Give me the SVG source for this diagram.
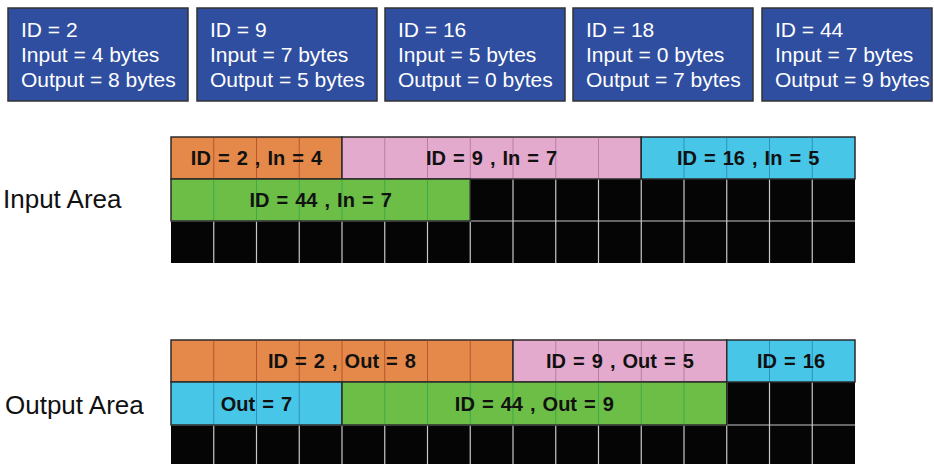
<svg xmlns="http://www.w3.org/2000/svg" width="934" height="464" viewBox="0 0 934 464">
<style>
.box{fill:#2F4E9F;stroke:#333;stroke-width:1.5}
.bt{font-family:"Liberation Sans",Arial,sans-serif;font-size:21px;fill:#fff}
.lab{font-family:"Liberation Sans",Arial,sans-serif;font-size:26px;fill:#111}
.ct{font-family:"Liberation Sans",Arial,sans-serif;font-size:20px;font-weight:bold;fill:#111;text-anchor:middle;word-spacing:1.5px}
.blk{fill:#050505}
.gl{stroke:#c8c8c8;stroke-width:1.2}
.or{fill:#E4894A;stroke:#2b2b2b;stroke-width:1.5}
.pk{fill:#E4AACE;stroke:#2b2b2b;stroke-width:1.5}
.cy{fill:#48C6E8;stroke:#2b2b2b;stroke-width:1.5}
.gr{fill:#6DBE47;stroke:#2b2b2b;stroke-width:1.5}
.lor{stroke:#B9552F;stroke-width:1}
.lpk{stroke:#B87CA6;stroke-width:1}
.lcy{stroke:#2A93B8;stroke-width:1}
.lgr{stroke:#3DAA48;stroke-width:1}
</style>

<g id="box-id2"><rect class="box" x="8" y="8" width="180" height="93"/>
<text class="bt" x="21" y="37">ID = 2</text><text class="bt" x="21" y="62">Input = 4 bytes</text><text class="bt" x="21" y="87">Output = 8 bytes</text></g>
<g id="box-id9"><rect class="box" x="197" y="8" width="180" height="93"/>
<text class="bt" x="210" y="37">ID = 9</text><text class="bt" x="210" y="62">Input = 7 bytes</text><text class="bt" x="210" y="87">Output = 5 bytes</text></g>
<g id="box-id16"><rect class="box" x="385" y="8" width="180" height="93"/>
<text class="bt" x="398" y="37">ID = 16</text><text class="bt" x="398" y="62">Input = 5 bytes</text><text class="bt" x="398" y="87">Output = 0 bytes</text></g>
<g id="box-id18"><rect class="box" x="573" y="8" width="180" height="93"/>
<text class="bt" x="586" y="37">ID = 18</text><text class="bt" x="586" y="62">Input = 0 bytes</text><text class="bt" x="586" y="87">Output = 7 bytes</text></g>
<g id="box-id44"><rect class="box" x="762" y="8" width="170" height="93"/>
<text class="bt" x="775" y="37">ID = 44</text><text class="bt" x="775" y="62">Input = 7 bytes</text><text class="bt" x="775" y="87">Output = 9 bytes</text></g>

<g id="label-input"><text class="lab" x="3" y="208">Input Area</text></g>
<g id="label-output"><text class="lab" x="5" y="414">Output Area</text></g>

<g id="input-free">
<rect class="blk" x="171" y="179" width="684" height="84"/>
<path class="gl" d="M213.75 179V263M256.5 179V263M299.25 179V263M342 179V263M384.75 179V263M427.5 179V263M470.25 179V263M513 179V263M555.75 179V263M598.5 179V263M641.25 179V263M684 179V263M726.75 179V263M769.5 179V263M812.25 179V263M171 221H855"/>
</g>

<g id="in-id2">
<rect class="or" x="171" y="137" width="171" height="42"/>
<path class="lor" d="M213.75 137.8V178.2M256.5 137.8V178.2M299.25 137.8V178.2"/>
<text class="ct" x="256.5" y="165">ID = 2 , In = 4</text></g>
<g id="in-id9">
<rect class="pk" x="342" y="137" width="299.25" height="42"/>
<path class="lpk" d="M384.75 137.8V178.2M427.5 137.8V178.2M470.25 137.8V178.2M513 137.8V178.2M555.75 137.8V178.2M598.5 137.8V178.2"/>
<text class="ct" x="491.6" y="165">ID = 9 , In = 7</text></g>
<g id="in-id16">
<rect class="cy" x="641.25" y="137" width="213.75" height="42"/>
<path class="lcy" d="M684 137.8V178.2M726.75 137.8V178.2M769.5 137.8V178.2M812.25 137.8V178.2"/>
<text class="ct" x="748.1" y="165">ID = 16 , In = 5</text></g>
<g id="in-id44">
<rect class="gr" x="171" y="179" width="299.25" height="42"/>
<path class="lgr" d="M213.75 179.8V220.2M256.5 179.8V220.2M299.25 179.8V220.2M342 179.8V220.2M384.75 179.8V220.2M427.5 179.8V220.2"/>
<text class="ct" x="320.6" y="207">ID = 44 , In = 7</text></g>

<g id="output-free">
<rect class="blk" x="171" y="382" width="684" height="85"/>
<path class="gl" d="M213.75 382V467M256.5 382V467M299.25 382V467M342 382V467M384.75 382V467M427.5 382V467M470.25 382V467M513 382V467M555.75 382V467M598.5 382V467M641.25 382V467M684 382V467M726.75 382V467M769.5 382V467M812.25 382V467M171 425H855"/>
</g>

<g id="out-id2">
<rect class="or" x="171" y="340" width="342" height="42"/>
<path class="lor" d="M213.75 340.8V381.2M256.5 340.8V381.2M299.25 340.8V381.2M342 340.8V381.2M384.75 340.8V381.2M427.5 340.8V381.2M470.25 340.8V381.2"/>
<text class="ct" x="342" y="368">ID = 2 , Out = 8</text></g>
<g id="out-id9">
<rect class="pk" x="513" y="340" width="213.75" height="42"/>
<path class="lpk" d="M555.75 340.8V381.2M598.5 340.8V381.2M641.25 340.8V381.2M684 340.8V381.2"/>
<text class="ct" x="619.9" y="368">ID = 9 , Out = 5</text></g>
<g id="out-id16">
<rect class="cy" x="726.75" y="340" width="128.25" height="42"/>
<path class="lcy" d="M769.5 340.8V381.2M812.25 340.8V381.2"/>
<text class="ct" x="791" y="368">ID = 16</text></g>
<g id="out-id18">
<rect class="cy" x="171" y="382" width="171" height="43"/>
<path class="lcy" d="M213.75 382.8V424.2M256.5 382.8V424.2M299.25 382.8V424.2"/>
<text class="ct" x="256.5" y="411">Out = 7</text></g>
<g id="out-id44">
<rect class="gr" x="342" y="382" width="384.75" height="43"/>
<path class="lgr" d="M384.75 382.8V424.2M427.5 382.8V424.2M470.25 382.8V424.2M513 382.8V424.2M555.75 382.8V424.2M598.5 382.8V424.2M641.25 382.8V424.2M684 382.8V424.2"/>
<text class="ct" x="534.4" y="411">ID = 44 , Out = 9</text></g>
</svg>
